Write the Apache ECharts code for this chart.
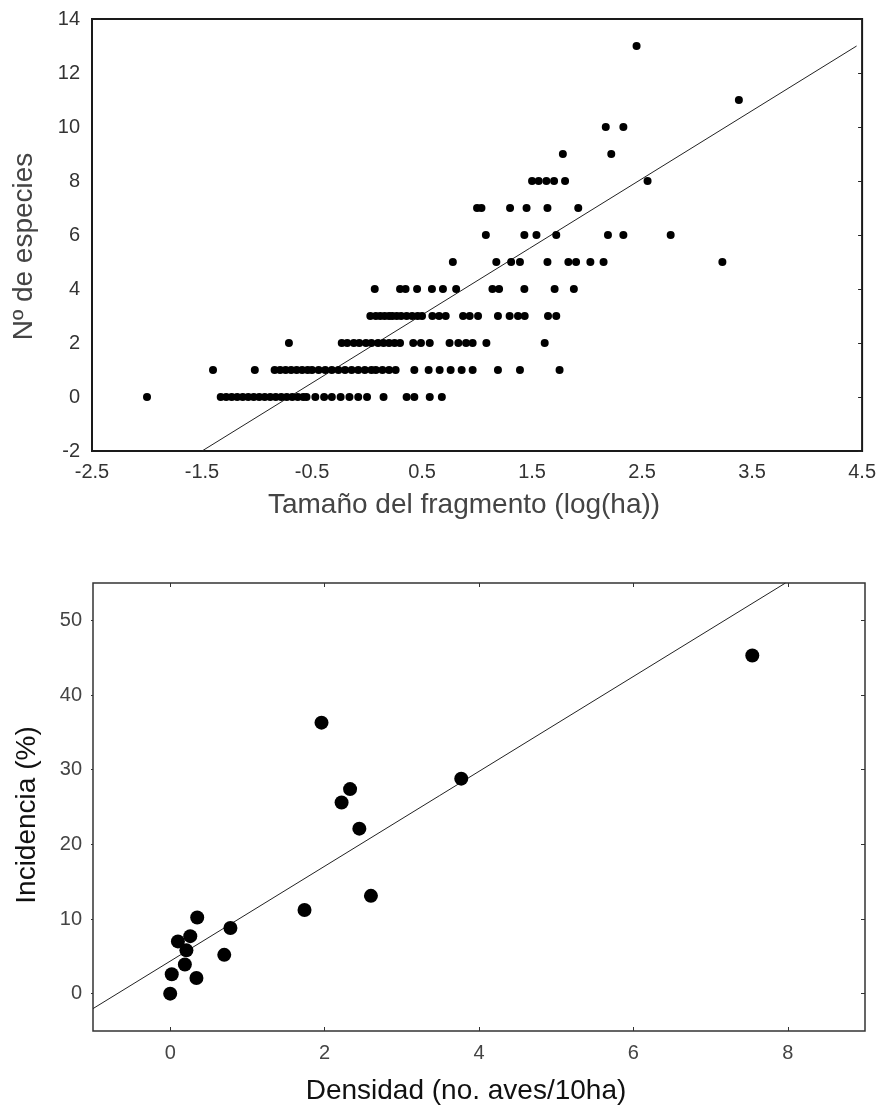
<!DOCTYPE html>
<html>
<head>
<meta charset="utf-8">
<script src="https://cdn.jsdelivr.net/npm/echarts@6/dist/echarts.min.js"></script>
<style>
html,body{margin:0;padding:0;background:#fff;}
#chart{width:879px;height:1106px;}
</style>
</head>
<body>
<div id="chart"></div>
<script>
// ---------- Top chart data: x = log(ha) of fragments, grouped by number of species ----------
var species0X = [-2.0, -1.33, -1.28, -1.23, -1.18, -1.13, -1.08, -1.03, -0.98, -0.93, -0.88, -0.83, -0.78, -0.73, -0.68, -0.63, -0.58,
                 -0.55, -0.47, -0.39, -0.32, -0.24, -0.16, -0.08, 0.0, 0.15, 0.36, 0.43, 0.57, 0.68];
var species1X = [-1.40, -1.02, -0.84, -0.79, -0.74, -0.69, -0.64, -0.59, -0.54, -0.50, -0.44, -0.38, -0.32, -0.26, -0.20, -0.14, -0.08, -0.02, 0.04,
                 0.08, 0.14, 0.20, 0.26, 0.43, 0.56, 0.66, 0.76, 0.86, 0.96, 1.19, 1.39, 1.75];
var species2X = [-0.71, -0.23, -0.18, -0.12, -0.07, -0.01, 0.04, 0.10, 0.15, 0.20, 0.25, 0.30, 0.42, 0.49, 0.57, 0.75, 0.83, 0.90, 0.96, 1.085, 1.615];
var species3X = [0.03, 0.08, 0.12, 0.16, 0.20, 0.23, 0.27, 0.31, 0.36, 0.41, 0.46, 0.50, 0.594, 0.655, 0.715, 0.873, 0.933, 1.009,
                 1.19, 1.296, 1.372, 1.433, 1.645, 1.72];
var species4X = [0.07, 0.30, 0.35, 0.455, 0.59, 0.69, 0.81, 1.14, 1.20, 1.43, 1.705, 1.88];
var species5X = [0.78, 1.175, 1.31, 1.39, 1.64, 1.83, 1.90, 2.03, 2.15, 3.23];
var species6X = [1.08, 1.43, 1.54, 1.72, 2.19, 2.33, 2.76];
var species7X = [1.00, 1.04, 1.30, 1.45, 1.64, 1.92];
var species8X = [1.50, 1.56, 1.63, 1.70, 1.80, 2.55];
var species9X = [1.78, 2.22];
var species10X = [2.17, 2.33];
var species11X = [3.38];
var species13X = [2.45];
var speciesCounts = [0, 1, 2, 3, 4, 5, 6, 7, 8, 9, 10, 11, 13];
var speciesRows = [species0X, species1X, species2X, species3X, species4X, species5X, species6X, species7X, species8X, species9X, species10X, species11X, species13X];
var topFitX = [-1.5, 4.45];
var topFitY = [-2, 13.0];
var topXTicks = [-2.5, -1.5, -0.5, 0.5, 1.5, 2.5, 3.5, 4.5];
var topYTicks = [-2, 0, 2, 4, 6, 8, 10, 12, 14];

// ---------- Bottom chart data ----------
var densidad   = [0.0, 0.02, 0.10, 0.26, 0.21, 0.19, 0.35, 0.34, 0.78, 0.70, 1.74, 2.60, 1.96, 2.33, 2.22, 2.45, 3.77, 7.54];
var incidencia = [0.0, 2.6, 7.0, 7.7, 5.8, 3.9, 10.2, 2.1, 8.8, 5.2, 11.2, 13.1, 36.3, 27.4, 25.6, 22.1, 28.8, 45.3];
var bottomFitX = [-1, 7.97];
var bottomFitY = [-2, 55];
var bottomXTicks = [0, 2, 4, 6, 8];
var bottomYTicks = [0, 10, 20, 30, 40, 50];

// ---------- Build data ----------
var topPoints = [];
speciesRows.forEach(function (row, i) {
  row.forEach(function (x) { topPoints.push([x, speciesCounts[i]]); });
});
var topLine = topFitX.map(function (x, i) { return [x, topFitY[i]]; });
var bottomPoints = densidad.map(function (x, i) { return [x, incidencia[i]]; });
var bottomLine = bottomFitX.map(function (x, i) { return [x, bottomFitY[i]]; });

var FONT = '"Liberation Sans", Arial, sans-serif';
var noLine = {show: false, onZero: false};

var chart = echarts.init(document.getElementById('chart'), null, {renderer: 'canvas'});
chart.setOption({
  animation: false,
  backgroundColor: '#ffffff',
  grid: [
    {left: 92, top: 19, width: 771, height: 432, show: true, borderColor: '#1a1a1a', borderWidth: 2, containLabel: false},
    {left: 93, top: 583, width: 772, height: 448, show: true, borderColor: '#333', borderWidth: 1.5, containLabel: false}
  ],
  xAxis: [
    {
      gridIndex: 0, type: 'value', min: topXTicks[0], max: topXTicks[topXTicks.length - 1], interval: 1,
      name: 'Tamaño del fragmento (log(ha))', nameLocation: 'middle', nameGap: 40,
      nameTextStyle: {fontFamily: FONT, fontSize: 28, color: '#444', padding: [0, 26, 0, 0]},
      axisLine: noLine, axisTick: {show: false}, splitLine: {show: false},
      axisLabel: {customValues: topXTicks, fontFamily: FONT, fontSize: 20, color: '#333', margin: 11,
        formatter: function (v) { return String(v); }}
    },
    {
      gridIndex: 1, type: 'value', min: -1, max: 9,
      name: 'Densidad (no. aves/10ha)', nameLocation: 'middle', nameGap: 46,
      nameTextStyle: {fontFamily: FONT, fontSize: 28, color: '#111', padding: [0, 26, 0, 0]},
      axisLine: noLine, splitLine: {show: false},
      axisTick: {show: true, inside: true, length: 4, customValues: bottomXTicks, lineStyle: {color: '#333'}},
      axisLabel: {customValues: bottomXTicks, fontFamily: FONT, fontSize: 20, color: '#444', margin: 12}
    },
    {
      gridIndex: 1, type: 'value', min: -1, max: 9, position: 'top',
      axisLine: noLine, splitLine: {show: false}, axisLabel: {show: false},
      axisTick: {show: true, inside: true, length: 4, customValues: bottomXTicks, lineStyle: {color: '#333'}}
    }
  ],
  yAxis: [
    {
      gridIndex: 0, type: 'value', min: topYTicks[0], max: topYTicks[topYTicks.length - 1], interval: 2,
      name: 'Nº de especies', nameLocation: 'middle', nameGap: 54,
      nameTextStyle: {fontFamily: FONT, fontSize: 28, color: '#444', padding: [0, 23, 0, 0]},
      axisLine: noLine, axisTick: {show: false}, splitLine: {show: false},
      axisLabel: {customValues: topYTicks, fontFamily: FONT, fontSize: 20, color: '#333', margin: 12}
    },
    {
      gridIndex: 0, type: 'value', min: -2, max: 14, position: 'right',
      axisLine: noLine, splitLine: {show: false}, axisLabel: {show: false},
      axisTick: {show: true, inside: true, length: 4, customValues: topYTicks, lineStyle: {color: '#222'}}
    },
    {
      gridIndex: 1, type: 'value', min: -5, max: 55,
      name: 'Incidencia (%)', nameLocation: 'middle', nameGap: 52,
      nameTextStyle: {fontFamily: FONT, fontSize: 28, color: '#111', padding: [0, 16, 0, 0]},
      axisLine: noLine, splitLine: {show: false},
      axisTick: {show: true, inside: false, length: 2, customValues: bottomYTicks, lineStyle: {color: '#333'}},
      axisLabel: {customValues: bottomYTicks, fontFamily: FONT, fontSize: 20, color: '#444', margin: 11}
    },
    {
      gridIndex: 1, type: 'value', min: -5, max: 55, position: 'right',
      axisLine: noLine, splitLine: {show: false}, axisLabel: {show: false},
      axisTick: {show: true, inside: true, length: 4, customValues: bottomYTicks, lineStyle: {color: '#333'}}
    }
  ],
  series: [
    {
      type: 'line', xAxisIndex: 0, yAxisIndex: 0, data: topLine, symbol: 'none',
      lineStyle: {color: '#222', width: 1}, silent: true, z: 3
    },
    {
      type: 'scatter', xAxisIndex: 0, yAxisIndex: 0, data: topPoints, symbol: 'circle', symbolSize: 8,
      itemStyle: {color: '#000', opacity: 1}, z: 4
    },
    {
      type: 'line', xAxisIndex: 1, yAxisIndex: 2, data: bottomLine, symbol: 'none',
      lineStyle: {color: '#222', width: 1}, silent: true, z: 3
    },
    {
      type: 'scatter', xAxisIndex: 1, yAxisIndex: 2, data: bottomPoints, symbol: 'circle', symbolSize: 14,
      itemStyle: {color: '#000', opacity: 1}, z: 4
    }
  ]
});
</script>
</body>
</html>
